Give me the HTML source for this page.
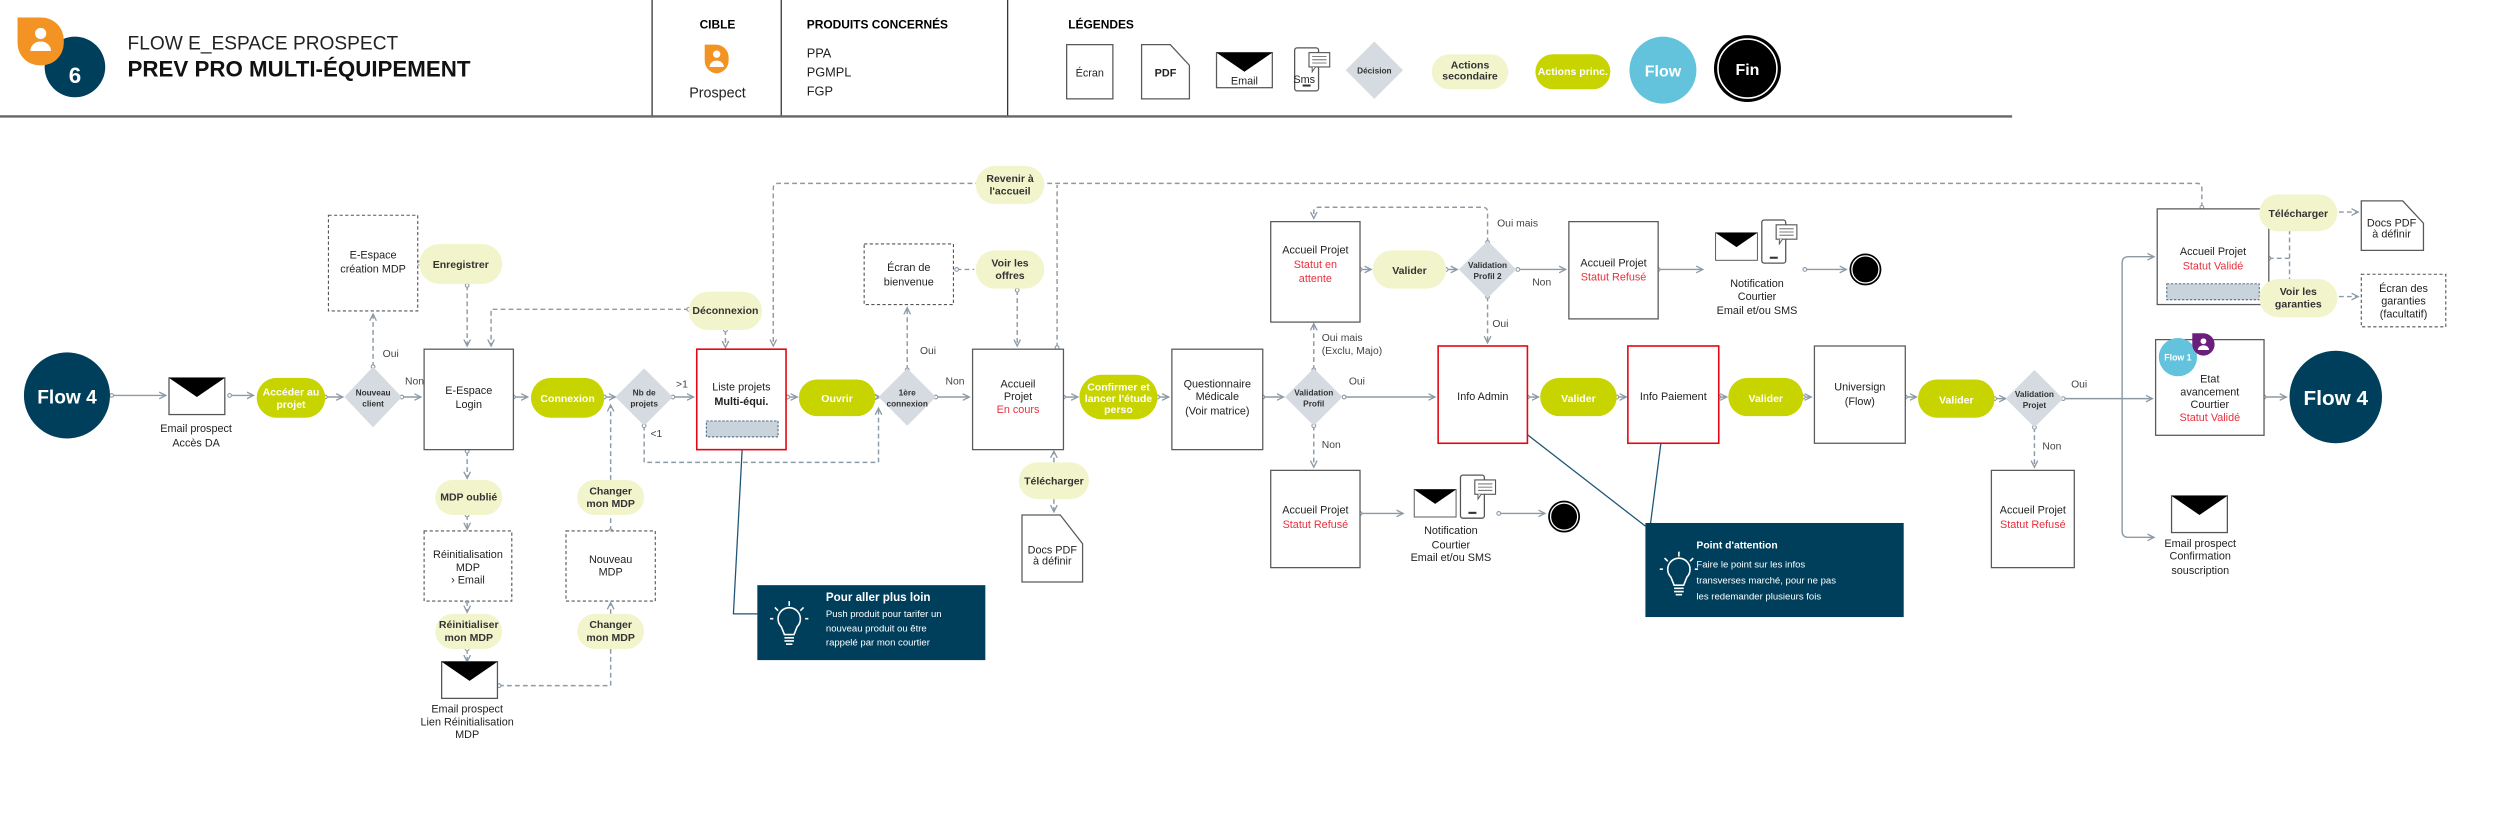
<!DOCTYPE html>
<html><head><meta charset="utf-8"><style>
html,body{margin:0;padding:0;background:#fff;}
svg{display:block;font-family:"Liberation Sans",sans-serif;}
.b{fill:#fff;stroke:#5a5a5a;stroke-width:.8}
.d{fill:#fff;stroke:#555;stroke-width:.7;stroke-dasharray:2 1.5}
.r{fill:#fff;stroke:#e30613;stroke-width:1}
.l{fill:none;stroke:#8c9aa6;stroke-width:.9}
.ld{fill:none;stroke:#8c9aa6;stroke-width:.9;stroke-dasharray:3 2}
.t{font-size:6.8px;fill:#222;text-anchor:middle}
.tr{font-size:6.8px;fill:#e8303c;text-anchor:middle}
.ps{fill:#f2f5cc}
.pp{fill:#c8d400}
.pt{font-size:6.6px;font-weight:bold;fill:#333;text-anchor:middle}
.pw{font-size:6.6px;font-weight:bold;fill:#fff;text-anchor:middle}
.dm{fill:#d5dbe0}
.dt{font-size:5.2px;fill:#333;text-anchor:middle;font-weight:bold}
.lb{font-size:6.5px;fill:#444}
</style></head><body>
<svg width="2500" height="817" viewBox="0 0 1568 512.4" preserveAspectRatio="none" xmlns="http://www.w3.org/2000/svg">
<defs>
<marker id="a" viewBox="0 0 6 6" refX="5" refY="3" markerWidth="5" markerHeight="5" markerUnits="userSpaceOnUse" orient="auto"><path d="M0,0.5 L5,3 L0,5.5" fill="none" stroke="#8c9aa6" stroke-width="1"/></marker>
<marker id="c" viewBox="0 0 6 6" refX="3" refY="3" markerWidth="3.5" markerHeight="3.5" markerUnits="userSpaceOnUse"><circle cx="3" cy="3" r="2" fill="#fff" stroke="#8c9aa6" stroke-width="1.2"/></marker>
<g id="env"><rect x="0" y="0" width="35" height="23" fill="#fff" stroke="#555" stroke-width=".8"/><path d="M0,0 H35 L17.5,12 Z" fill="#000"/></g>
<g id="bulb" fill="none" stroke="#fff" stroke-width="1"><path d="M-5,2 A7,7 0 1 1 5,2 L3,7 H-3 Z"/><path d="M-3,9 H3 M-3,11 H3 M-2,13 H2"/><path d="M0,-14 V-11 M-9,-10 L-7,-8 M9,-10 L7,-8 M-12,-3 H-10 M12,-3 H10"/></g>
<g id="ph"><rect x="0" y="0" width="15" height="27" rx="1.5" fill="#fff" stroke="#555" stroke-width=".8"/><rect x="5" y="23" width="5" height="1.3" fill="#333"/><rect x="9" y="3" width="13" height="9" fill="#fff" stroke="#555" stroke-width=".7"/><path d="M11,12 L11,15 L13,12" fill="#fff" stroke="#555" stroke-width=".6"/><path d="M11,5.5 H20 M11,7.5 H20 M11,9.5 H20" stroke="#555" stroke-width=".5"/></g>
</defs>

<!-- HEADER -->
<circle cx="47" cy="42" r="19" fill="#003f5c"/>
<path d="M11,11 H26 A14,14 0 0 1 40,25 V27 A14,14 0 0 1 26,41 H25 A14,14 0 0 1 11,27 Z" fill="#f39323"/>
<circle cx="25.5" cy="21" r="3.5" fill="#fff"/><path d="M19,32 A6.5,6 0 0 1 32,32 Z" fill="#fff"/>
<text x="47" y="52" font-size="14" font-weight="bold" fill="#fff" text-anchor="middle">6</text>
<text x="80" y="31" font-size="12" fill="#222">FLOW E_ESPACE PROSPECT</text>
<text x="80" y="48" font-size="14" font-weight="bold" fill="#111">PREV PRO MULTI-ÉQUIPEMENT</text>
<path d="M409,0 V73 M490,0 V73 M632,0 V73" stroke="#333" stroke-width=".8"/>
<path d="M0,73 H1262" stroke="#666" stroke-width="1.5"/>
<text x="450" y="18" font-size="7.5" font-weight="bold" text-anchor="middle">CIBLE</text>
<path d="M442,28 H449 A8,8 0 0 1 457,36 V38 A8,8 0 0 1 449,46 A8,8 0 0 1 442,38 Z" fill="#f39323"/>
<circle cx="449.5" cy="34" r="2.3" fill="#fff"/><path d="M445,42 A4.5,4 0 0 1 454,42 Z" fill="#fff"/>
<text x="450" y="61" font-size="9" fill="#222" text-anchor="middle">Prospect</text>
<text x="506" y="18" font-size="7.5" font-weight="bold">PRODUITS CONCERNÉS</text>
<text x="506" y="36" font-size="8" fill="#222">PPA</text>
<text x="506" y="48" font-size="8" fill="#222">PGMPL</text>
<text x="506" y="60" font-size="8" fill="#222">FGP</text>
<text x="670" y="18" font-size="7.5" font-weight="bold">LÉGENDES</text>
<rect x="669" y="28" width="29" height="34" class="b"/><text x="683.5" y="48" class="t" font-size="5.5">Écran</text>
<path d="M716,28 H734 L746,41 V62 H716 Z" class="b"/><text x="731" y="48" class="t" font-size="5.5" font-weight="bold">PDF</text>
<rect x="763" y="33" width="35" height="22" class="b"/><path d="M763,33 H798 L780.5,45 Z"/><text x="780.5" y="53" class="t" font-size="5.5">Email</text>
<use href="#ph" x="812" y="30"/><text x="818" y="52" class="t" font-size="4.5">Sms</text>
<path d="M862,26 L880,44 L862,62 L844,44 Z" class="dm"/><text x="862" y="46" class="dt">Décision</text>
<rect x="898" y="34" width="48" height="22" rx="11" class="ps"/><text x="922" y="43" class="pt" font-size="5.3">Actions</text><text x="922" y="50" class="pt" font-size="5.3">secondaire</text>
<rect x="963" y="34" width="47" height="22" rx="11" class="pp"/><text x="986.5" y="47" class="pw" font-size="5.3">Actions princ.</text>
<circle cx="1043" cy="44" r="21" fill="#63c3dc"/><text x="1043" y="48" font-size="10" font-weight="bold" fill="#fff" text-anchor="middle">Flow</text>
<circle cx="1096" cy="43" r="21" fill="#000"/><circle cx="1096" cy="43" r="18.5" fill="none" stroke="#fff" stroke-width="1"/><text x="1096" y="47" font-size="10" font-weight="bold" fill="#fff" text-anchor="middle">Fin</text>

<!-- CONNECTORS -->
<g marker-end="url(#a)" marker-start="url(#c)">
<path class="l" d="M70,248 H104"/>
<path class="l" d="M144,248 H159"/>
<path class="l" d="M204,249 H215"/>
<path class="l" d="M252,249 H264"/>
<path class="ld" d="M234,230 V197"/>
<path class="ld" d="M293,179 V217"/>
<path class="ld" d="M432,194 H308 V217"/>
<path class="ld" d="M455,207 V218"/>
<path class="l" d="M322,249 H331"/>
<path class="l" d="M379,249 H386"/>
<path class="l" d="M422,249 H435"/>
<path class="ld" d="M404,267 V290 H551 V256"/>
<path class="l" d="M494,249 H500"/>
<path class="l" d="M549,249 H552"/>
<path class="ld" d="M569,232 V193"/>
<path class="l" d="M587,249 H608"/>
<path class="ld" d="M638,182 V217"/>
<path class="ld" d="M1381,130 V118 Q1381,115 1378,115 H488 Q485,115 485,118 V217"/>
<path class="ld" d="M663,218 V116" marker-end="none"/>
<path class="l" d="M667,249 H676"/>
<path class="l" d="M726,249 H733"/>
<path class="l" d="M792,249 H805"/>
<path class="l" d="M843,249 H900"/>
<path class="ld" d="M824,232 V203"/>
<path class="ld" d="M824,267 V293"/>
<path class="l" d="M853,169 H860"/>
<path class="l" d="M907,169 H914"/>
<path class="l" d="M952,169 H982"/>
<path class="ld" d="M933,152 V133 Q933,130 930,130 H827 Q824,130 824,133 V137"/>
<path class="ld" d="M933,186 V215"/>
<path class="l" d="M1040,169 H1068"/>
<path class="l" d="M1132,169 H1158"/>
<path class="l" d="M853,322 H880"/>
<path class="l" d="M940,322 H969"/>
<path class="l" d="M958,249 H965"/>
<path class="l" d="M1014,249 H1020"/>
<path class="l" d="M1078,249 H1083"/>
<path class="l" d="M1131,249 H1136"/>
<path class="l" d="M1195,249 H1202"/>
<path class="l" d="M1251,250 H1258"/>
<path class="l" d="M1294,250 H1350"/>
<path class="l" d="M1331,250 V165 Q1331,161 1335,161 H1351" marker-start="none"/>
<path class="l" d="M1331,250 V333 Q1331,337 1335,337 H1351" marker-start="none"/>
<path class="ld" d="M1276,268 V293"/>
<path class="l" d="M1420,249 H1434"/>
<path class="ld" d="M1423,162 H1436" marker-end="none"/>
<path class="ld" d="M1436,144 V176" marker-start="none" marker-end="none"/>
<path class="ld" d="M1467,133 H1479" marker-start="none"/>
<path class="ld" d="M1467,186 H1479" marker-start="none"/>
<path class="ld" d="M661,290 V283" marker-start="none"/>
<path class="ld" d="M661,313 V321" marker-start="none"/>
<path class="ld" d="M293,283 V300"/>
<path class="ld" d="M293,323 V332"/>
<path class="ld" d="M293,377 V384"/>
<path class="ld" d="M293,407 V415"/>
<path class="ld" d="M313,430 H383 V407" marker-end="none"/>
<path class="ld" d="M383,385 V378" marker-start="none"/>
<path class="ld" d="M383,333 V324" marker-end="none"/>
<path class="ld" d="M383,301 V254" marker-start="none"/>
<path class="ld" d="M263,165 H270" marker-end="none"/>
<path class="ld" d="M600,169 H611" marker-end="none"/>
</g>
<!-- callout lines -->
<path d="M466,272 L460,385 H475" fill="none" stroke="#1d5577" stroke-width=".8"/>
<path d="M952,268 L1032,330" fill="none" stroke="#1d5577" stroke-width=".8"/>
<path d="M1043,268 L1035,330" fill="none" stroke="#1d5577" stroke-width=".8"/>

<!-- LABELS -->
<text x="240" y="224" class="lb">Oui</text>
<text x="254" y="241" class="lb">Non</text>
<text x="424" y="243" class="lb" font-size="5.5">&gt;1</text>
<text x="408" y="274" class="lb" font-size="5.5">&lt;1</text>
<text x="577" y="222" class="lb">Oui</text>
<text x="593" y="241" class="lb">Non</text>
<text x="829" y="214" class="lb">Oui mais</text>
<text x="829" y="222" class="lb" font-size="4.5">(Exclu, Majo)</text>
<text x="846" y="241" class="lb">Oui</text>
<text x="829" y="281" class="lb">Non</text>
<text x="939" y="142" class="lb">Oui mais</text>
<text x="961" y="179" class="lb">Non</text>
<text x="936" y="205" class="lb">Oui</text>
<text x="1299" y="243" class="lb">Oui</text>
<text x="1281" y="282" class="lb">Non</text>

<!-- LEFT -->
<circle cx="42" cy="248" r="27" fill="#003f5c"/><text x="42" y="253" font-size="12" font-weight="bold" fill="#fff" text-anchor="middle">Flow 4</text>
<use href="#env" x="106" y="237"/>
<text x="123" y="271" class="t">Email prospect</text><text x="123" y="280" class="t">Accès DA</text>
<rect x="161" y="237" width="43" height="25" rx="12.5" class="pp"/><text x="182.5" y="248" class="pw">Accéder au</text><text x="182.5" y="256" class="pw">projet</text>
<path d="M234,230 L252,249 L234,268 L216,249 Z" class="dm"/><text x="234" y="248" class="dt">Nouveau</text><text x="234" y="255" class="dt">client</text>
<rect x="206" y="135" width="56" height="60" class="d"/><text x="234" y="162" class="t">E-Espace</text><text x="234" y="171" class="t">création MDP</text>
<rect x="263" y="153" width="52" height="25" rx="12.5" class="ps"/><text x="289" y="168" class="pt">Enregistrer</text>
<rect x="266" y="219" width="56" height="63" class="b"/><text x="294" y="247" class="t">E-Espace</text><text x="294" y="256" class="t">Login</text>
<rect x="333" y="237" width="46" height="25" rx="12.5" class="pp"/><text x="356" y="252" class="pw">Connexion</text>
<path d="M404,231 L422,249 L404,267 L386,249 Z" class="dm"/><text x="404" y="248" class="dt">Nb de</text><text x="404" y="255" class="dt">projets</text>
<rect x="437" y="219" width="56" height="63" class="r"/><text x="465" y="245" class="t">Liste projets</text><text x="465" y="254" class="t" font-weight="bold">Multi-équi.</text>
<rect x="443" y="264" width="45" height="10" fill="#c9d3db" stroke="#3a5f80" stroke-width=".6" stroke-dasharray="1.5 1"/>
<rect x="432" y="183" width="46" height="24" rx="12" class="ps"/><text x="455" y="197" class="pt">Déconnexion</text>
<rect x="501" y="238" width="48" height="23" rx="11.5" class="pp"/><text x="525" y="252" class="pw">Ouvrir</text>
<path d="M569,231 L587,249 L569,267 L551,249 Z" class="dm"/><text x="569" y="248" class="dt">1ère</text><text x="569" y="255" class="dt">connexion</text>
<rect x="542" y="153" width="56" height="38" class="d"/><text x="570" y="170" class="t">Écran de</text><text x="570" y="179" class="t">bienvenue</text>
<rect x="612" y="157" width="43" height="24" rx="12" class="ps"/><text x="633.5" y="167" class="pt">Voir les</text><text x="633.5" y="175" class="pt">offres</text>
<rect x="612" y="104" width="43" height="24" rx="12" class="ps"/><text x="633.5" y="114" class="pt">Revenir à</text><text x="633.5" y="122" class="pt">l'accueil</text>
<rect x="610" y="219" width="57" height="63" class="b"/><text x="638.5" y="243" class="t">Accueil</text><text x="638.5" y="251" class="t">Projet</text><text x="638.5" y="259" class="tr">En cours</text>
<rect x="677" y="235" width="49" height="28" rx="14" class="pp"/><text x="701.5" y="245" class="pw" font-size="6">Confirmer et</text><text x="701.5" y="252" class="pw" font-size="6">lancer l'étude</text><text x="701.5" y="259" class="pw" font-size="6">perso</text>
<rect x="639" y="290" width="44" height="23" rx="11.5" class="ps"/><text x="661" y="304" class="pt">Télécharger</text>
<path d="M641,323 H665 L679,341 V365 H641 Z" class="b"/><text x="660" y="347" class="t" font-size="5.3">Docs PDF</text><text x="660" y="354" class="t" font-size="5.3">à définir</text>
<rect x="735" y="219" width="57" height="63" class="b"/><text x="763.5" y="243" class="t">Questionnaire</text><text x="763.5" y="251" class="t">Médicale</text><text x="763.5" y="260" class="t">(Voir matrice)</text>

<!-- bottom-left -->
<rect x="273" y="301" width="42" height="22" rx="11" class="ps"/><text x="294" y="314" class="pt">MDP oublié</text>
<rect x="266" y="333" width="55" height="44" class="d"/><text x="293.5" y="350" class="t">Réinitialisation</text><text x="293.5" y="358" class="t">MDP</text><text x="293.5" y="366" class="t">› Email</text>
<rect x="273" y="385" width="42" height="22" rx="11" class="ps"/><text x="294" y="394" class="pt">Réinitialiser</text><text x="294" y="402" class="pt">mon MDP</text>
<use href="#env" x="277" y="415"/>
<text x="293" y="447" class="t">Email prospect</text><text x="293" y="455" class="t">Lien Réinitialisation</text><text x="293" y="463" class="t">MDP</text>
<rect x="362" y="301" width="42" height="22" rx="11" class="ps"/><text x="383" y="310" class="pt">Changer</text><text x="383" y="318" class="pt">mon MDP</text>
<rect x="355" y="333" width="56" height="44" class="d"/><text x="383" y="353" class="t">Nouveau</text><text x="383" y="361" class="t">MDP</text>
<rect x="362" y="385" width="42" height="22" rx="11" class="ps"/><text x="383" y="394" class="pt">Changer</text><text x="383" y="402" class="pt">mon MDP</text>

<rect x="475" y="367" width="143" height="47" fill="#003f5c"/>
<use href="#bulb" x="495" y="391"/>
<text x="518" y="377" font-size="7.3" font-weight="bold" fill="#fff">Pour aller plus loin</text>
<text x="518" y="387" font-size="6" fill="#fff">Push produit pour tarifer un</text>
<text x="518" y="396" font-size="6" fill="#fff">nouveau produit ou être</text>
<text x="518" y="405" font-size="6" fill="#fff">rappelé par mon courtier</text>

<!-- MIDDLE -->
<path d="M824,231 L842,249 L824,267 L806,249 Z" class="dm"/><text x="824" y="248" class="dt">Validation</text><text x="824" y="255" class="dt">Profil</text>
<rect x="797" y="139" width="56" height="63" class="b"/><text x="825" y="159" class="t">Accueil Projet</text><text x="825" y="168" class="tr">Statut en</text><text x="825" y="177" class="tr">attente</text>
<rect x="861" y="157" width="46" height="24" rx="12" class="ps"/><text x="884" y="172" class="pt">Valider</text>
<path d="M933,151 L951,169 L933,187 L915,169 Z" class="dm"/><text x="933" y="168" class="dt">Validation</text><text x="933" y="175" class="dt">Profil 2</text>
<rect x="984" y="139" width="56" height="61" class="b"/><text x="1012" y="167" class="t">Accueil Projet</text><text x="1012" y="176" class="tr">Statut Refusé</text>
<use href="#env" x="1076" y="146" transform="translate(1076 146) scale(.75) translate(-1076 -146)"/>
<use href="#ph" x="1105" y="138"/>
<text x="1102" y="180" class="t">Notification</text><text x="1102" y="188" class="t">Courtier</text><text x="1102" y="197" class="t">Email et/ou SMS</text>
<circle cx="1170" cy="169" r="10" fill="#000"/><circle cx="1170" cy="169" r="8.5" fill="none" stroke="#fff" stroke-width=".8"/>
<rect x="797" y="295" width="56" height="61" class="b"/><text x="825" y="322" class="t">Accueil Projet</text><text x="825" y="331" class="tr">Statut Refusé</text>
<use href="#env" x="887" y="307" transform="translate(887 307) scale(.75) translate(-887 -307)"/>
<use href="#ph" x="916" y="298"/>
<text x="910" y="335" class="t">Notification</text><text x="910" y="344" class="t">Courtier</text><text x="910" y="352" class="t">Email et/ou SMS</text>
<circle cx="981" cy="324" r="10" fill="#000"/><circle cx="981" cy="324" r="8.5" fill="none" stroke="#fff" stroke-width=".8"/>
<rect x="902" y="217" width="56" height="61" class="r"/><text x="930" y="251" class="t">Info Admin</text>
<rect x="966" y="237" width="48" height="24" rx="12" class="pp"/><text x="990" y="252" class="pw">Valider</text>
<rect x="1021" y="217" width="57" height="61" class="r"/><text x="1049.5" y="251" class="t">Info Paiement</text>
<rect x="1084" y="237" width="47" height="24" rx="12" class="pp"/><text x="1107.5" y="252" class="pw">Valider</text>
<rect x="1138" y="217" width="57" height="61" class="b"/><text x="1166.5" y="245" class="t">Universign</text><text x="1166.5" y="254" class="t">(Flow)</text>
<rect x="1203" y="238" width="48" height="24" rx="12" class="pp"/><text x="1227" y="253" class="pw">Valider</text>
<path d="M1276,232 L1294,250 L1276,268 L1258,250 Z" class="dm"/><text x="1276" y="249" class="dt">Validation</text><text x="1276" y="256" class="dt">Projet</text>
<rect x="1249" y="295" width="52" height="61" class="b"/><text x="1275" y="322" class="t">Accueil Projet</text><text x="1275" y="331" class="tr">Statut Refusé</text>

<rect x="1032" y="328" width="162" height="59" fill="#003f5c"/>
<use href="#bulb" x="1053" y="360"/>
<text x="1064" y="344" font-size="6.5" font-weight="bold" fill="#fff">Point d'attention</text>
<text x="1064" y="356" font-size="6" fill="#fff">Faire le point sur les infos</text>
<text x="1064" y="366" font-size="6" fill="#fff">transverses marché, pour ne pas</text>
<text x="1064" y="376" font-size="6" fill="#fff">les  redemander plusieurs fois</text>

<!-- RIGHT -->
<rect x="1353" y="131" width="70" height="60" class="b"/><text x="1388" y="160" class="t">Accueil Projet</text><text x="1388" y="169" class="tr" font-size="6.8">Statut Validé</text>
<rect x="1359" y="178" width="58" height="10" fill="#c9d3db" stroke="#3a5f80" stroke-width=".6" stroke-dasharray="1.5 1"/>
<rect x="1417" y="122" width="49" height="23" rx="11.5" class="ps"/><text x="1441.5" y="136" class="pt">Télécharger</text>
<path d="M1481,126 H1507 L1520,140 V157 H1481 Z" class="b"/><text x="1500" y="142" class="t" font-size="5.3">Docs PDF</text><text x="1500" y="149" class="t" font-size="5.3">à définir</text>
<rect x="1417" y="175" width="49" height="24" rx="12" class="ps"/><text x="1441.5" y="185" class="pt">Voir les</text><text x="1441.5" y="193" class="pt">garanties</text>
<rect x="1481" y="172" width="53" height="33" class="d"/><text x="1507.5" y="183" class="t">Écran des</text><text x="1507.5" y="191" class="t">garanties</text><text x="1507.5" y="199" class="t" fill="#666">(facultatif)</text>
<rect x="1352" y="213" width="68" height="60" class="b"/><text x="1386" y="240" class="t">Etat</text><text x="1386" y="248" class="t">avancement</text><text x="1386" y="256" class="t">Courtier</text><text x="1386" y="264" class="tr" fill="#e30613">Statut Validé</text>
<circle cx="1366" cy="224" r="12" fill="#63c3dc"/><text x="1366" y="226" font-size="5.5" font-weight="bold" fill="#fff" text-anchor="middle">Flow 1</text>
<path d="M1377,209 H1382 A7,7 0 0 1 1389,216 A7,7 0 0 1 1382,223 A7,7 0 0 1 1375,216 V209 Z" fill="#6b1f7c"/>
<circle cx="1382" cy="214" r="1.8" fill="#fff"/><path d="M1378.5,219.5 A3.5,3 0 0 1 1385.5,219.5 Z" fill="#fff"/>
<circle cx="1465" cy="249" r="29" fill="#003f5c"/><text x="1465" y="254" font-size="13" font-weight="bold" fill="#fff" text-anchor="middle">Flow 4</text>
<use href="#env" x="1362" y="311"/>
<text x="1380" y="343" class="t">Email prospect</text><text x="1380" y="351" class="t">Confirmation</text><text x="1380" y="360" class="t">souscription</text>
</svg>
</body></html>
